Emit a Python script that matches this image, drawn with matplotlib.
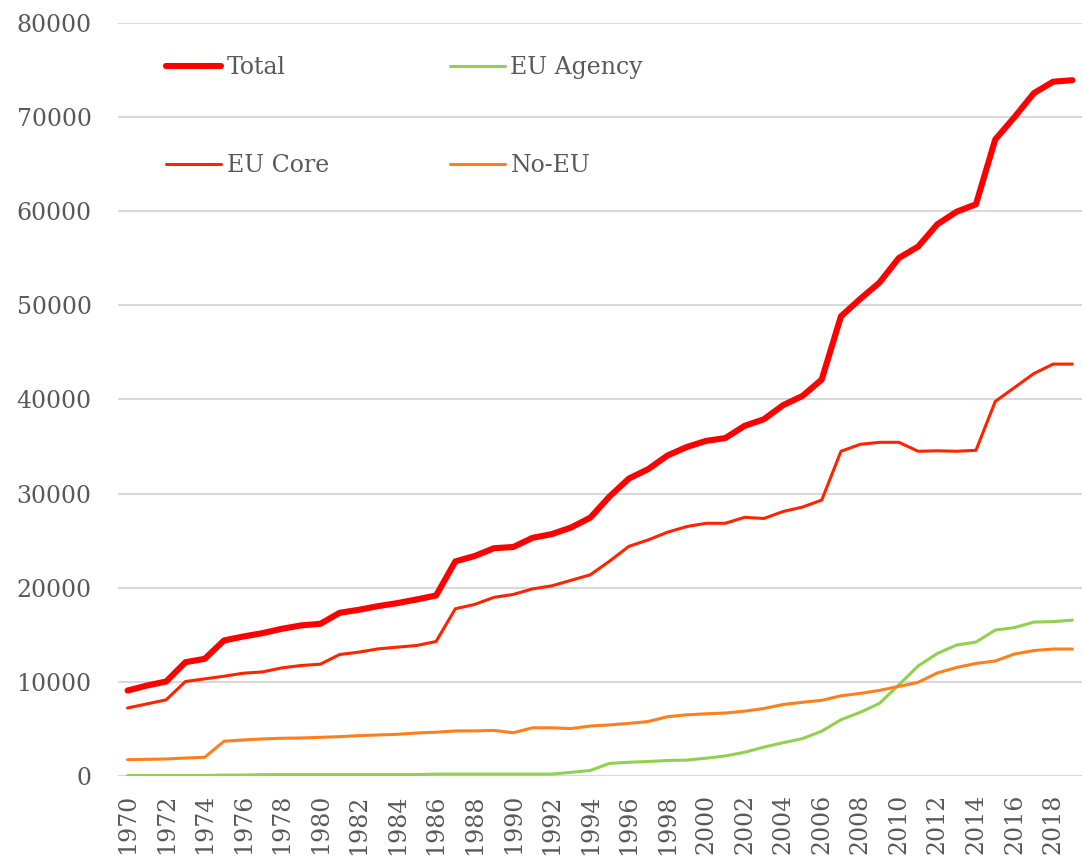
import matplotlib.pyplot as plt

plt.rcParams["font.family"] = ["DejaVu Serif"]

years = list(range(1970, 2020))

total = [9080, 9610, 10040, 12090, 12450, 14400, 14820, 15180, 15640, 16000,
         16170, 17340, 17660, 18050, 18370, 18760, 19180, 22800, 23370, 24200,
         24330, 25300, 25700, 26400, 27450, 29700, 31600, 32600, 34050, 34950,
         35600, 35900, 37200, 37900, 39400, 40370, 42120, 48840, 50690, 52430,
         55030, 56240, 58620, 59950, 60740, 67620, 70000, 72540, 73760, 73920]

eu_core = [7230, 7660, 8090, 10040, 10320, 10600, 10920, 11060, 11490, 11740,
           11880, 12910, 13160, 13510, 13690, 13870, 14290, 17770, 18230, 18980,
           19290, 19880, 20200, 20790, 21380, 22830, 24400, 25080, 25900, 26500,
           26850, 26850, 27480, 27360, 28100, 28570, 29310, 34500, 35240, 35450,
           35450, 34500, 34550, 34500, 34600, 39790, 41270, 42750, 43760, 43760]

eu_agency = [50, 50, 50, 50, 50, 100, 100, 150, 150, 150,
             150, 150, 150, 150, 150, 150, 200, 200, 200, 200,
             200, 200, 200, 390, 590, 1340, 1460, 1540, 1650, 1690,
             1890, 2130, 2520, 3070, 3540, 3970, 4760, 5980, 6770, 7720,
             9680, 11690, 13020, 13920, 14230, 15500, 15770, 16350, 16400, 16560]

no_eu = [1740, 1770, 1810, 1910, 1990, 3690, 3830, 3940, 4010, 4040,
         4110, 4180, 4290, 4360, 4430, 4570, 4650, 4790, 4790, 4840,
         4600, 5120, 5120, 5040, 5310, 5430, 5590, 5790, 6300, 6500,
         6610, 6690, 6890, 7170, 7600, 7830, 8040, 8520, 8780, 9100,
         9520, 9950, 10950, 11530, 11960, 12220, 12960, 13330, 13490, 13490]

fig = plt.figure(figsize=(10.82, 8.57), dpi=100)
ax = fig.add_axes([0.109, 0.0945, 0.891, 0.8787])

l_total, = ax.plot(years, total, color="#FF0000", lw=4.4, label="Total", solid_capstyle="round")
l_core, = ax.plot(years, eu_core, color="#FF2400", lw=2.2, label="EU Core", solid_capstyle="round")
l_agency, = ax.plot(years, eu_agency, color="#92D050", lw=2.2, label="EU Agency", solid_capstyle="round")
l_noeu, = ax.plot(years, no_eu, color="#FF7F1E", lw=2.2, label="No-EU", solid_capstyle="round")

ax.set_ylim(0, 80000)
ax.set_xlim(1969.5, 2019.5)
ax.set_yticks(range(0, 80001, 10000))
ax.set_xticks(years[::2])
ax.set_xticklabels([str(y) for y in years[::2]], rotation=90)
ax.grid(axis="y", color="#D9D9D9", lw=1.5)
ax.set_axisbelow(True)
for s in ax.spines.values():
    s.set_visible(False)
ax.tick_params(length=0, labelsize=17, colors="#595959")
ax.tick_params(axis="y", pad=19)
ax.tick_params(axis="x", pad=13)

leg = fig.legend(handles=[l_total, l_core, l_agency, l_noeu], ncol=2,
                 loc="upper left", bbox_to_anchor=(166 / 1082, 1 - 56 / 857),
                 frameon=False, borderpad=0, borderaxespad=0,
                 fontsize=17, labelcolor="#595959", handlelength=2.33,
                 handletextpad=0.25, labelspacing=3.17, columnspacing=5.1)

fig.savefig("out.png", dpi=100)
